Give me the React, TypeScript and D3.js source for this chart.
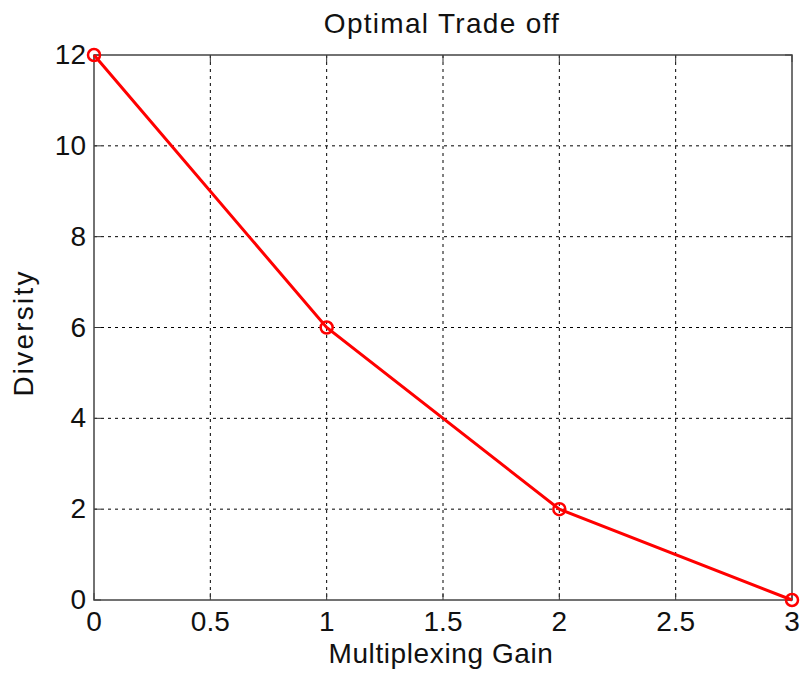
import React from "react";
import * as d3 from "d3";

const xValues = [0, 1, 2, 3];
const yValues = [12, 6, 2, 0];
const xTicks = [0, 0.5, 1, 1.5, 2, 2.5, 3];
const yTicks = [0, 2, 4, 6, 8, 10, 12];
const title = "Optimal Trade off";
const xLabel = "Multiplexing Gain";
const yLabel = "Diversity";

const W = 800, H = 677;
const L = 94, R = 792, T = 55, B = 600;

export default function App() {
  const x = d3.scaleLinear().domain([0, 3]).range([L, R]);
  const y = d3.scaleLinear().domain([0, 12]).range([B, T]);
  const line = d3.line<number>().x((_, i) => x(xValues[i])).y((d) => y(d));
  const font = "Liberation Sans, Arial, sans-serif";
  return (
    <svg width={W} height={H} style={{ position: "absolute", left: 0, top: 0 }}>
      <rect x={0} y={0} width={W} height={H} fill="#fff" />
      {xTicks.slice(1, -1).map((t) => (
        <line key={"gx" + t} x1={x(t)} x2={x(t)} y1={T} y2={B} stroke="#000" strokeWidth={1} strokeDasharray="3,4" />
      ))}
      {yTicks.slice(1, -1).map((t) => (
        <line key={"gy" + t} x1={L} x2={R} y1={y(t)} y2={y(t)} stroke="#000" strokeWidth={1} strokeDasharray="3,4" />
      ))}
      {xTicks.map((t) => (
        <g key={"tx" + t}>
          <line x1={x(t)} x2={x(t)} y1={B} y2={B - 7} stroke="#333" />
          <line x1={x(t)} x2={x(t)} y1={T} y2={T + 7} stroke="#333" />
          <text x={x(t)} y={631} textAnchor="middle" fontFamily={font} fontSize={28} fill="#111">{t}</text>
        </g>
      ))}
      {yTicks.map((t) => (
        <g key={"ty" + t}>
          <line x1={L} x2={L + 7} y1={y(t)} y2={y(t)} stroke="#333" />
          <line x1={R} x2={R - 7} y1={y(t)} y2={y(t)} stroke="#333" />
          <text x={L - 8} y={y(t) + 9} textAnchor="end" fontFamily={font} fontSize={28} fill="#111">{t}</text>
        </g>
      ))}
      <rect x={L} y={T} width={R - L} height={B - T} fill="none" stroke="#444" strokeWidth={1.5} />
      <path d={line(yValues) || ""} fill="none" stroke="#ff0000" strokeWidth={3} />
      {yValues.map((v, i) => (
        <circle key={"p" + i} cx={x(xValues[i])} cy={y(v)} r={6} fill="none" stroke="#ff0000" strokeWidth={2.5} />
      ))}
      <text x={442} y={33} textAnchor="middle" fontFamily={font} fontSize={28} letterSpacing={1.3} fill="#111">{title}</text>
      <text x={441} y={663} textAnchor="middle" fontFamily={font} fontSize={28} letterSpacing={0.6} fill="#111">{xLabel}</text>
      <text transform={`translate(33,333) rotate(-90)`} textAnchor="middle" fontFamily={font} fontSize={28} letterSpacing={2.2} fill="#111">{yLabel}</text>
    </svg>
  );
}
